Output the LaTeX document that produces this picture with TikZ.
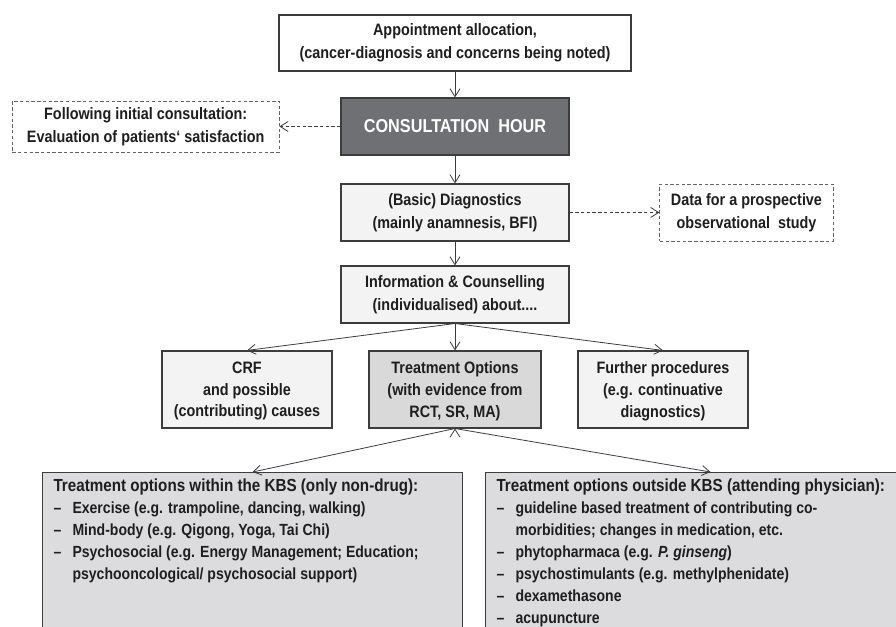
\documentclass[tikz,border=0pt]{standalone}
\usepackage{fontspec}
\setmainfont{Liberation Sans}[FakeStretch=0.87]
\usepackage{xcolor}
\usetikzlibrary{arrows.meta, positioning}

\definecolor{ink}{HTML}{1E1E1E}
\definecolor{frame}{HTML}{3C3C3C}
\definecolor{hourfill}{HTML}{6F7073}
\definecolor{lightfill}{HTML}{F3F3F4}
\definecolor{midfill}{HTML}{D9D9DA}
\definecolor{listfill}{HTML}{DCDCDE}

\newcommand{\dashitem}{\makebox[14.25pt][l]{\textendash}}
\newcommand{\listhead}[1]{{\fontsize{13.1}{16.5}\selectfont #1}}

\begin{document}
\begin{tikzpicture}[x=0.75pt,y=-0.75pt,on grid,node distance=63pt,auto,
    >={Straight Barb[length=6pt,width=7.5pt]},
    font=\bfseries\fontsize{12.4}{17}\selectfont,text=ink]
    \tikzstyle{plain}=[shape=rectangle,draw=frame,line width=0.8pt,fill=white,align=center,inner sep=0pt,minimum width=171pt,minimum height=42.75pt]
    \tikzstyle{hourbox}=[plain,fill=hourfill,text=white,font=\bfseries\fontsize{14}{17}\selectfont]
    \tikzstyle{light}=[plain,fill=lightfill]
    \tikzstyle{option}=[plain,fill=lightfill,minimum width=127.5pt,minimum height=57.75pt,text depth=-2.5pt,font=\bfseries\fontsize{12.4}{16.2}\selectfont]
    \tikzstyle{note}=[plain,draw=frame!80,dash pattern=on 2.5pt off 1.8pt,line width=0.6pt]
    \tikzstyle{listbox}=[shape=rectangle,draw=frame,line width=0.8pt,fill=listfill,anchor=north west,inner xsep=8.25pt,inner ysep=5pt,font=\bfseries\fontsize{12.1}{16.5}\selectfont]

    \useasboundingbox (0,0) rectangle (896,626);
    \clip (0,0) rectangle (896,626);

    \node[plain, minimum width=264pt, minimum height=42pt] (alloc) at (455,43) {Appointment allocation,\\(cancer-diagnosis and concerns being noted)};
    \node[hourbox, below=62.6pt of alloc] (hour) {CONSULTATION\ \ HOUR};
    \node[light, below=64.5pt of hour] (diag) {(Basic) Diagnostics\\(mainly anamnesis, BFI)};
    \node[light, below=61.5pt of diag] (info) {Information \& Counselling\\(individualised) about....};
    \node[option, fill=midfill, minimum width=129pt, below=71.25pt of info] (treat) {Treatment Options\\(with evidence from\\RCT, SR, MA)};
    \node[option, left=156pt of treat] (crf) {CRF\\and possible\\(contributing) causes};
    \node[option, right=156pt of treat] (further) {Further procedures\\(e.g. continuative\\diagnostics)};
    \node[note, minimum width=200pt, minimum height=38.25pt, left=232pt of hour] (follow) {Following initial consultation:\\Evaluation of patients‘ satisfaction};
    \node[note, minimum width=130pt, right=218.6pt of diag] (data) {Data for a prospective\\observational\ \ study};

    \node[listbox] (inside) at (42,472) {\begin{minipage}[t][130pt][t]{298.5pt}\raggedright
        \listhead{Treatment options within the KBS (only non-drug):}\\
        \dashitem Exercise (e.g. trampoline, dancing, walking)\\
        \dashitem Mind-body (e.g. Qigong, Yoga, Tai Chi)\\
        \dashitem Psychosocial (e.g. Energy Management; Education;\\
        \hspace*{14.25pt}psychooncological/ psychosocial support)
    \end{minipage}};
    \node[listbox] (outside) at (485,472) {\begin{minipage}[t][130pt][t]{321pt}\raggedright
        \listhead{Treatment options outside KBS (attending physician):}\\
        \dashitem guideline based treatment of contributing co-\\
        \hspace*{14.25pt}morbidities; changes in medication, etc.\\
        \dashitem phytopharmaca (e.g. \textit{P. ginseng})\\
        \dashitem psychostimulants (e.g. methylphenidate)\\
        \dashitem dexamethasone\\
        \dashitem acupuncture
    \end{minipage}};

    \path[->, draw=frame, line width=0.6pt]
    (alloc) edge node {} (hour)
    (hour) edge node {} (diag)
    (diag) edge node {} (info)
    (info.south) edge node {} (crf.north)
    (info) edge node {} (treat)
    (info.south) edge node {} (further.north)
    (treat.south) edge node {} (inside.north)
    (treat.south) edge node {} (outside.north)
    ;

    \path[->, draw=frame, line width=0.6pt, dash pattern=on 2.5pt off 1.8pt]
    (hour) edge node {} (follow)
    (diag) edge node {} (data)
    ;

\end{tikzpicture}
\end{document}
